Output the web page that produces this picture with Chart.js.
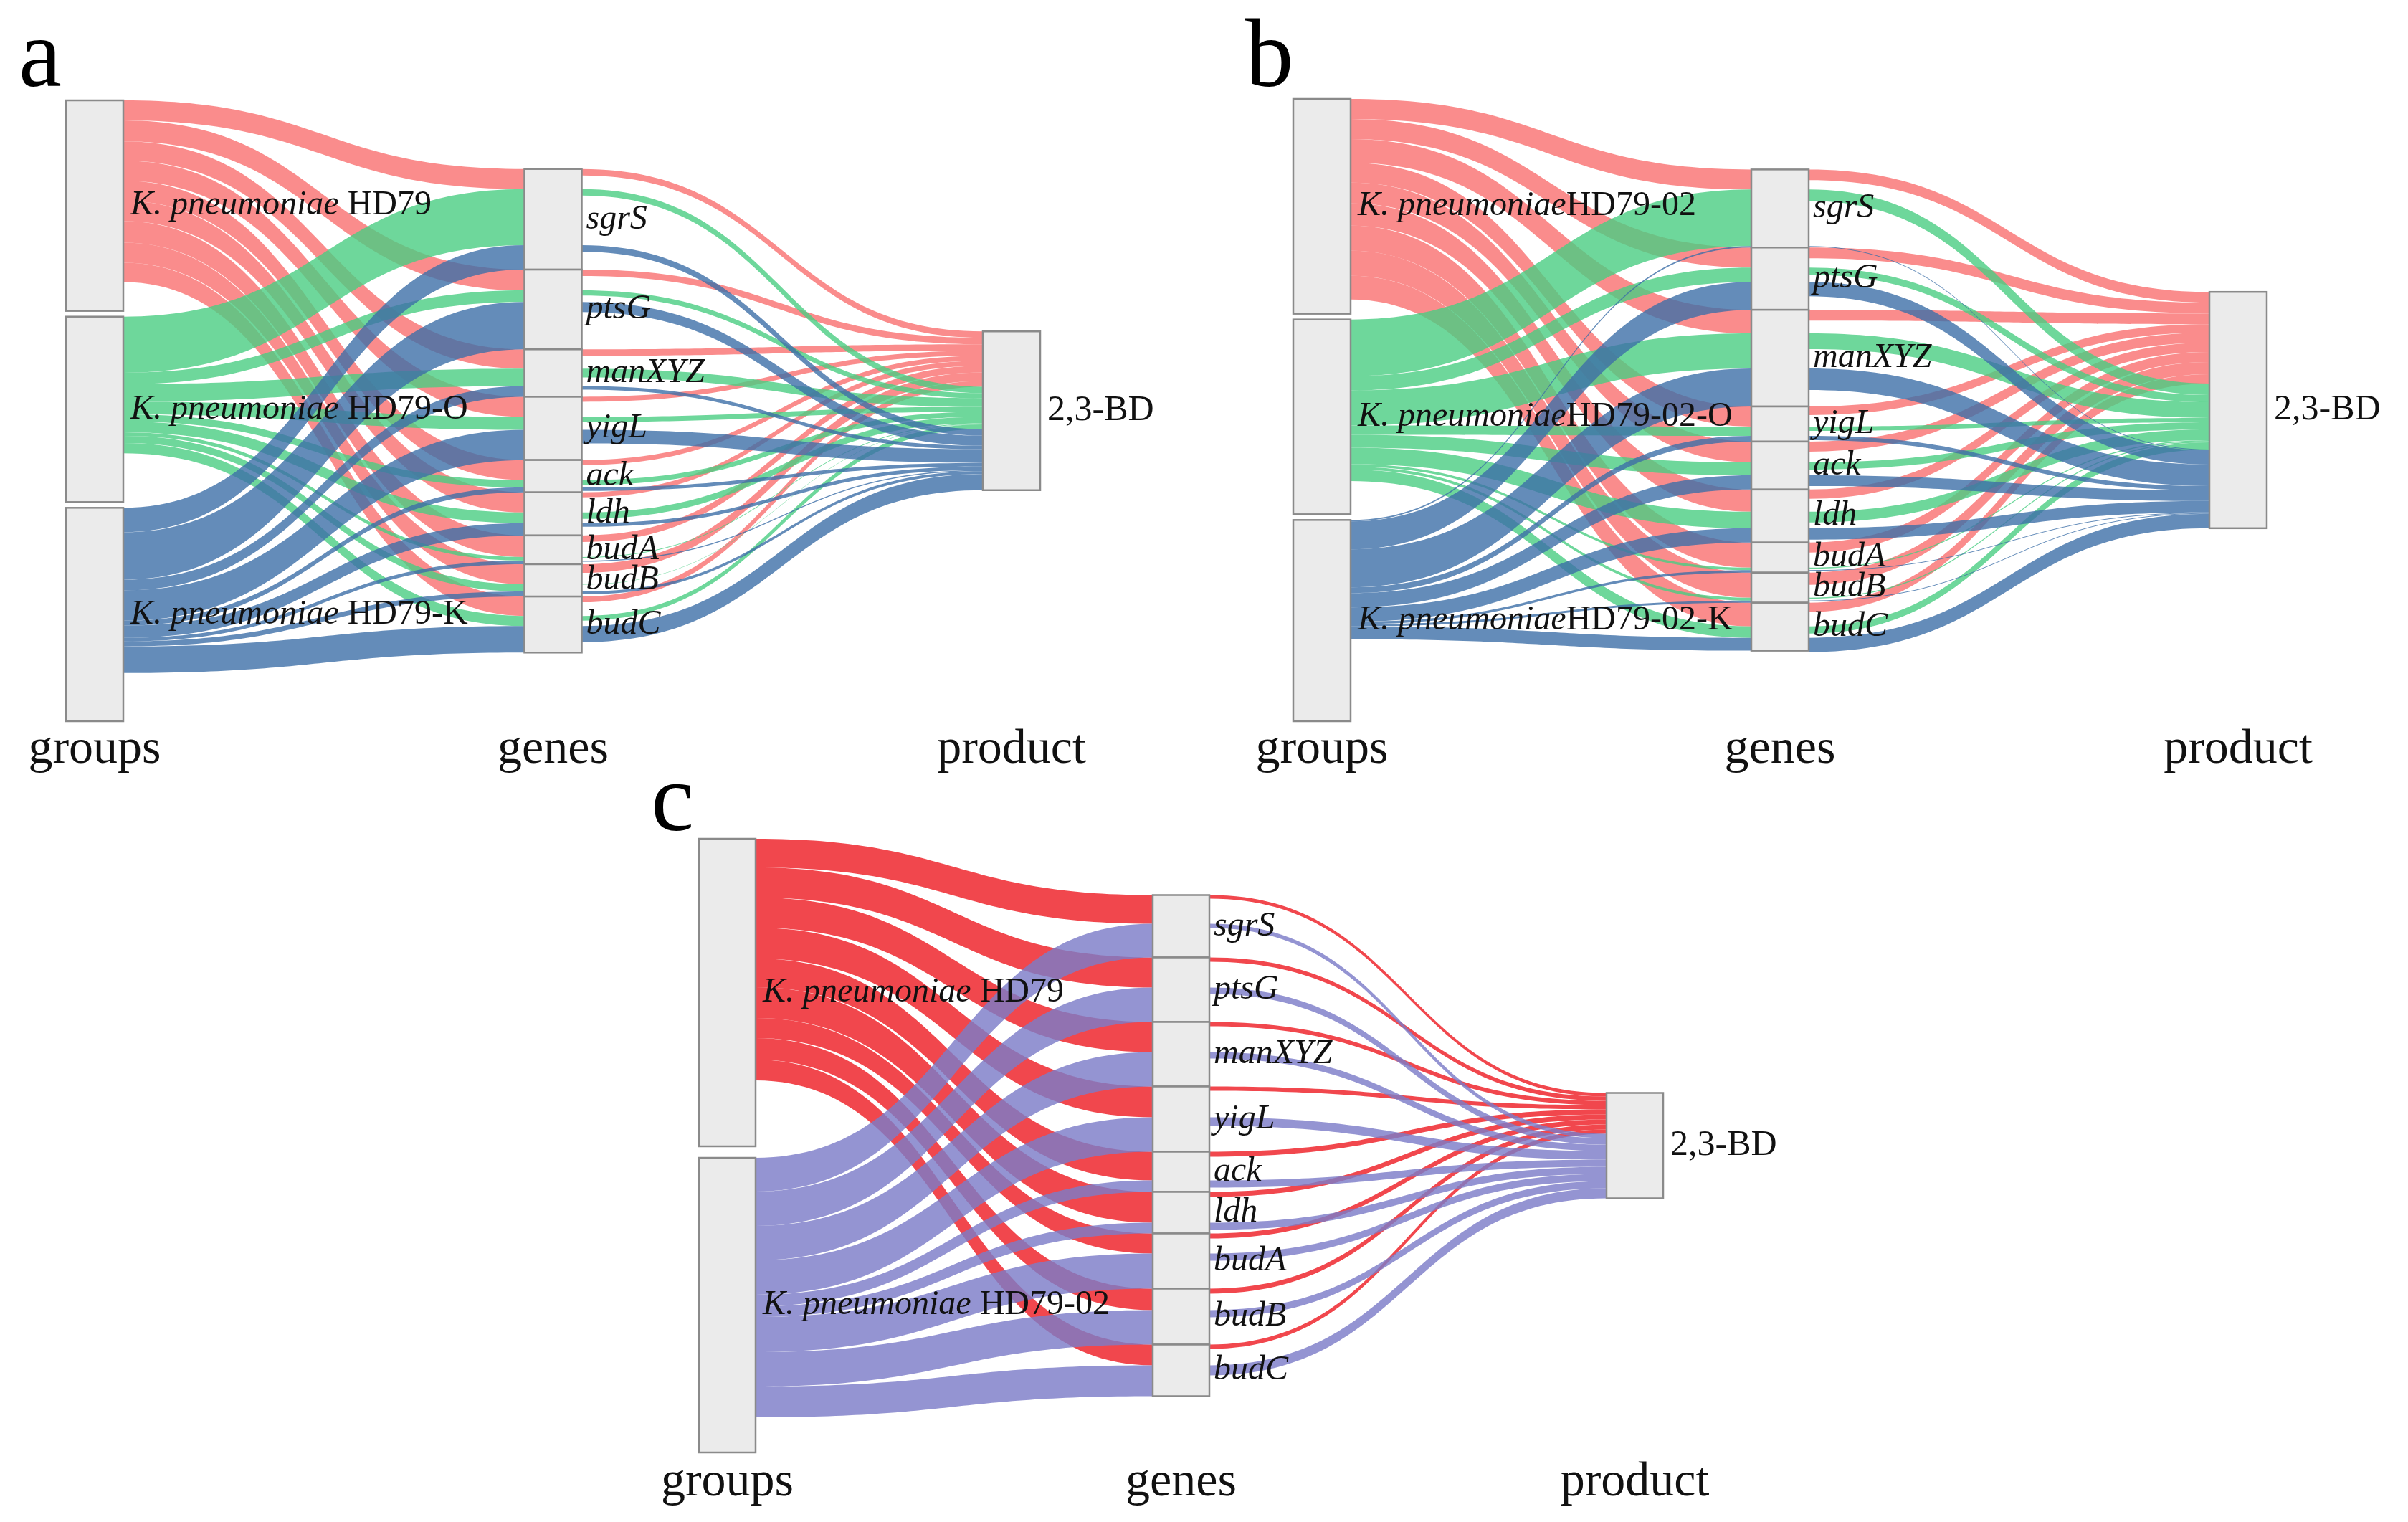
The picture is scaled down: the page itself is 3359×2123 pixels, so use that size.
<!DOCTYPE html>
<html>
<head>
<meta charset="utf-8">
<script src="https://cdn.jsdelivr.net/npm/chart.js@4.4.1/dist/chart.umd.min.js"></script>
<style>
  html, body { margin: 0; padding: 0; background: #fff; }
  body { width: 3359px; height: 2123px; position: relative; overflow: hidden; }
  canvas { position: absolute; }
  .letter { position: absolute; font-family: 'Liberation Serif', 'Times New Roman', serif; font-size: 135px; line-height: 1; color: #000; }
</style>
</head>
<body>
<div class="letter" style="left:26px; top:7px;">a</div>
<div class="letter" style="left:1737px; top:7px;">b</div>
<div class="letter" style="left:908px; top:1045px;">c</div>

<canvas id="chartA" width="1700" height="1110" style="left:0px; top:0px;"></canvas>
<canvas id="chartB" width="1659" height="1110" style="left:1700px; top:0px;"></canvas>
<canvas id="chartC" width="1700" height="1023" style="left:880px; top:1100px;"></canvas>

<script>
// shared categories
const genes = ['sgrS', 'ptsG', 'manXYZ', 'yigL', 'ack', 'ldh', 'budA', 'budB', 'budC'];
const columnTitles = ['groups', 'genes', 'product'];
const productName = '2,3-BD';
const species = 'K. pneumoniae';

// panel a : group -> gene flows, gene -> product flows, group node sizes
const groupsA = ['HD79', 'HD79-O', 'HD79-K'];
const groupSizeA = [293, 258, 297];
const aInHD79  = [28, 29, 27, 28, 28, 28, 30, 28, 27];
const aInHD79O = [78, 16, 24, 18, 10, 15, 5, 10, 14];
const aInHD79K = [34, 66, 15, 42, 7, 17, 5, 7, 37];
const aOutHD79  = [9, 9, 9, 7, 7, 7, 9, 12, 8];
const aOutHD79O = [9, 7, 12, 7, 7, 9, 1, 0.5, 6.5];
const aOutHD79K = [9, 14, 5, 19, 5, 5, 1.5, 4, 22.5];

// panel b
const groupsB = ['HD79-02', 'HD79-02-O', 'HD79-02-K'];
const groupSizeB = [300, 272, 281];
const bIn02  = [28, 28, 33, 28, 29, 31, 35, 35, 33];
const bIn02O = [79, 20, 49, 13, 18, 23, 3.5, 4, 16];
const bIn02K = [2, 39, 53, 8, 20, 20, 3.5, 3, 18];
const bOut02  = [15, 15, 15, 12, 14, 13, 14, 17, 13];
const bOut02O = [16, 10, 22, 6, 10, 15, 1.5, 1.5, 10];
const bOut02K = [1, 20, 30, 6, 15, 16, 1, 1, 20];

// panel c
const groupsC = ['HD79', 'HD79-02'];
const groupSizeC = [429, 411];
const cInHD79 = [40, 42, 42, 43, 40, 43, 28, 30, 29];
const cIn02   = [47, 48, 48, 48, 16, 15, 49, 48, 43];
const cOutHD79 = [5, 6, 6, 6, 7, 7, 7, 7, 6];
const cOut02   = [6, 9, 9, 12, 10, 10, 10, 10, 14];

const FONT = "'Liberation Serif', 'Times New Roman', serif";
const sum = arr => arr.reduce((a, b) => a + b, 0);

// ribbon between two vertical segments, horizontal bezier like d3-sankey
function ribbon(ctx, x0, y0a, y0b, x1, y1a, y1b, color) {
    const xm = (x0 + x1) / 2;
    ctx.beginPath();
    ctx.moveTo(x0, y0a);
    ctx.bezierCurveTo(xm, y0a, xm, y1a, x1, y1a);
    ctx.lineTo(x1, y1b);
    ctx.bezierCurveTo(xm, y1b, xm, y0b, x0, y0b);
    ctx.closePath();
    ctx.fillStyle = color;
    ctx.fill();
}

function sankeyPlugin(p) {
    return {
        id: 'sankey',
        afterDraw(chart) {
            const ctx = chart.ctx;
            const xs = chart.scales.x, ys = chart.scales.y;
            const nW = p.nodeWidth;
            const span = ys.max;
            const nG = p.groups.length;

            // group column
            const groupTop = [];
            let c = 0;
            p.groupSizes.forEach((s, i) => { groupTop.push(c); c += s + p.gap; });

            // gene column, centred
            const geneSize = genes.map((g, j) => sum(p.inFlows.map(f => f[j])));
            const geneTotal = sum(geneSize);
            const geneTop = [];
            c = (span - geneTotal) / 2;
            geneSize.forEach(s => { geneTop.push(c); c += s; });

            // product column, centred
            const prodTotal = sum(p.outFlows.map(sum));
            const prodTop = (span - prodTotal) / 2;

            const X = [0, 1, 2].map(v => xs.getPixelForValue(v));
            const Y = v => ys.getPixelForValue(v);

            // group -> gene
            const segTop = p.groups.map(() => []);
            const gCursor = geneTop.slice();
            for (let i = 0; i < nG; i++) {
                for (let j = 0; j < genes.length; j++) {
                    segTop[i][j] = gCursor[j];
                    gCursor[j] += p.inFlows[i][j];
                }
            }
            for (let i = 0; i < nG; i++) {
                let cur = groupTop[i];
                for (let j = 0; j < genes.length; j++) {
                    const v = p.inFlows[i][j];
                    ribbon(ctx, X[0] + nW, Y(cur), Y(cur + v), X[1], Y(segTop[i][j]), Y(segTop[i][j] + v), p.colors[i]);
                    cur += v;
                }
            }

            // gene -> product
            let pc = prodTop;
            for (let i = 0; i < nG; i++) {
                for (let j = 0; j < genes.length; j++) {
                    const v = p.outFlows[i][j];
                    const s = segTop[i][j];
                    ribbon(ctx, X[1] + nW, Y(s), Y(s + v), X[2], Y(pc), Y(pc + v), p.colors[i]);
                    pc += v;
                }
            }

            // nodes
            ctx.lineWidth = 2.5;
            ctx.strokeStyle = '#8a8a8a';
            ctx.fillStyle = '#ebebeb';
            const node = (x, a, b) => {
                ctx.fillStyle = '#ebebeb';
                ctx.fillRect(x, Y(a), nW, Y(b) - Y(a));
                ctx.strokeRect(x, Y(a), nW, Y(b) - Y(a));
            };
            p.groupSizes.forEach((s, i) => node(X[0], groupTop[i], groupTop[i] + s));
            geneSize.forEach((s, j) => node(X[1], geneTop[j], geneTop[j] + s));
            node(X[2], prodTop, prodTop + prodTotal);

            // labels
            ctx.fillStyle = '#111';
            ctx.textBaseline = 'middle';
            ctx.textAlign = 'left';
            p.groups.forEach((g, i) => {
                const y = Y(groupTop[i] + p.groupSizes[i] / 2);
                const x = X[0] + nW + 10;
                ctx.font = `italic 48px ${FONT}`;
                ctx.fillText(species, x, y);
                const w = ctx.measureText(species).width;
                ctx.font = `48px ${FONT}`;
                ctx.fillText(p.space + g, x + w, y);
            });
            ctx.font = `italic 48px ${FONT}`;
            genes.forEach((g, j) => {
                ctx.fillText(g, X[1] + nW + 6, Y(geneTop[j] + geneSize[j] / 2));
            });
            ctx.font = `50px ${FONT}`;
            ctx.fillText(productName, X[2] + nW + 10, Y(prodTop + prodTotal / 2));

            ctx.font = `68px ${FONT}`;
            ctx.textAlign = 'center';
            columnTitles.forEach((t, k) => {
                ctx.fillText(t, X[k] + nW / 2, chart.chartArea.bottom + p.titleDrop);
            });
        }
    };
}

function makeSankey(id, p, pad) {
    const span = sum(p.groupSizes) + p.gap * (p.groups.length - 1);
    return new Chart(document.getElementById(id), {
        type: 'scatter',
        data: { datasets: [] },
        options: {
            responsive: false,
            animation: false,
            events: [],
            layout: { padding: pad },
            plugins: { legend: { display: false }, tooltip: { enabled: false } },
            scales: {
                x: { type: 'linear', min: 0, max: 2, display: false },
                y: { type: 'linear', min: 0, max: span, reverse: true, display: false }
            }
        },
        plugins: [sankeyPlugin(p)]
    });
}

const pastel = ['rgba(249,111,111,0.8)', 'rgba(74,205,130,0.8)', 'rgba(61,111,167,0.8)'];
const strong = ['rgba(238,30,38,0.82)', 'rgba(124,124,200,0.82)'];

makeSankey('chartA', {
    groups: groupsA, groupSizes: groupSizeA, gap: 8,
    inFlows: [aInHD79, aInHD79O, aInHD79K],
    outFlows: [aOutHD79, aOutHD79O, aOutHD79K],
    colors: pastel, nodeWidth: 80, space: ' ', titleDrop: 40
}, { left: 92, right: 329, top: 140, bottom: 104 });

makeSankey('chartB', {
    groups: groupsB, groupSizes: groupSizeB, gap: 8,
    inFlows: [bIn02, bIn02O, bIn02K],
    outFlows: [bOut02, bOut02O, bOut02K],
    colors: pastel, nodeWidth: 80, space: '', titleDrop: 40
}, { left: 104, right: 277, top: 138, bottom: 104 });

makeSankey('chartC', {
    groups: groupsC, groupSizes: groupSizeC, gap: 16,
    inFlows: [cInHD79, cIn02],
    outFlows: [cOutHD79, cOut02],
    colors: strong, nodeWidth: 79, space: ' ', titleDrop: 42
}, { left: 95, right: 339, top: 70, bottom: 97 });
</script>
</body>
</html>
